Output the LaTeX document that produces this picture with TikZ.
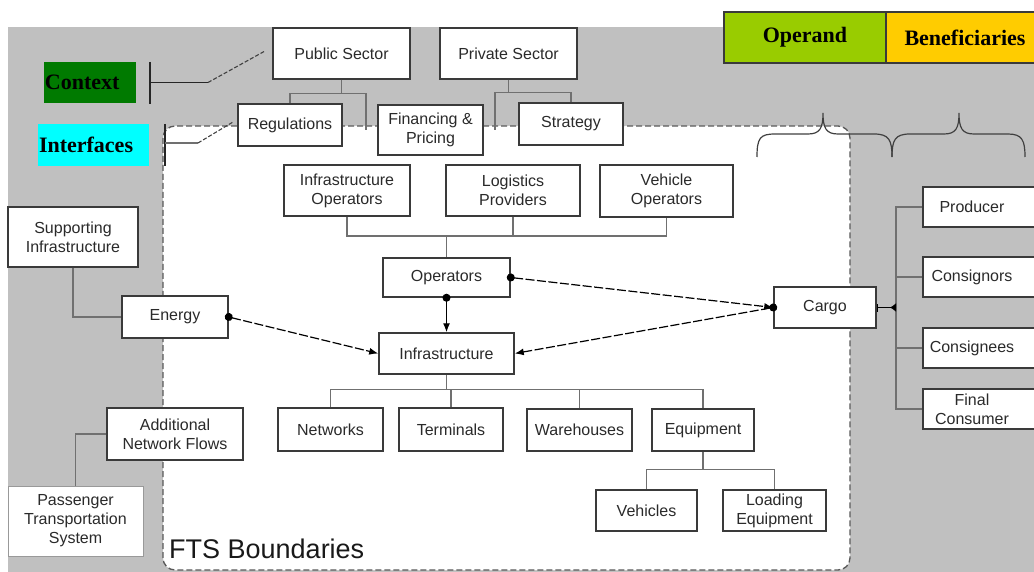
\documentclass[tikz,border=0pt]{standalone}
\usepackage{fontspec}
\setmainfont{Liberation Serif}
\newfontfamily\arialf{Liberation Sans}
\usetikzlibrary{arrows.meta}
\definecolor{bggray}{HTML}{C0C0C0}
\definecolor{ctxgreen}{HTML}{007A00}
\definecolor{opgreen}{HTML}{99CC00}
\definecolor{benyel}{HTML}{FFCC00}
\definecolor{ifcyan}{HTML}{00FFFF}
\definecolor{linegray}{HTML}{707070}
\definecolor{txtgray}{HTML}{2A2A2A}
\definecolor{boxline}{HTML}{3A3A3A}
\begin{document}
\begin{tikzpicture}[x=1pt,y=-1pt,
  box/.style={draw=boxline, line width=1.5pt, fill=white, font=\arialf\fontsize{16}{19}\selectfont,
    text=txtgray, align=center, inner sep=0pt},
  btext/.style={font=\arialf\fontsize{16}{19}\selectfont, text=txtgray, align=center, inner sep=0pt},
  tagbox/.style={draw=boxline, line width=1.3pt, font=\bfseries\fontsize{22}{24}\selectfont, text=black, inner sep=0pt},
  tree/.style={draw=linegray, line width=1.1pt},
  arr/.style={line width=1.2pt, draw=black, {Circle[length=8pt,width=8pt]}-{Latex[length=9pt,width=7pt]}, shorten <=-4pt},
  dashln/.style={dash pattern=on 9pt off 2.5pt},
  bracest/.style={draw=black!75, line width=1.2pt},
  barst/.style={draw=black!85, line width=1.5pt}
]
\useasboundingbox (0,0) rectangle (1034,572);
\clip (0,0) rectangle (1034,572);

% background regions
\fill[bggray] (8,27) rectangle (1044,580);
\fill[white, rounded corners=12] (163,126) rectangle (850,570);
\draw[black!65, line width=1.3pt, dash pattern=on 6pt off 3pt, rounded corners=12] (163,126) rectangle (850,570);

% header tags
\node[tagbox, fill=opgreen, minimum width=162, minimum height=51] (operand) at (805,37.5) {Operand};
\node[tagbox, fill=benyel, minimum width=158, minimum height=51] (benef) at (965,37.5) {Beneficiaries};
\node[tagbox, draw=none, fill=ctxgreen, minimum height=41, text width=90, inner xsep=1, align=left] (context) at (90,82.5) {Context};
\node[tagbox, draw=none, fill=ifcyan, minimum height=42, text width=109, inner xsep=1, align=left] (interf) at (93.5,145) {Interfaces};

% braces
\draw[bracest] (757,157) .. controls (757,138) and (760,134) .. (775,134) -- (808,134)
  .. controls (820,134) and (823,128) .. (823,113) .. controls (823,128) and (826,134) .. (838,134)
  -- (874,134) .. controls (889,134) and (892,140) .. (892,157);
\draw[bracest] (892,157) .. controls (892,140) and (895,134) .. (910,134) -- (944,134)
  .. controls (956,134) and (959,128) .. (959,113) .. controls (959,128) and (962,134) .. (974,134)
  -- (1008,134) .. controls (1022,134) and (1025,140) .. (1025,157);

% context / interfaces connectors
\coordinate (ctxbar) at (150,82.5);
\coordinate (ctxk) at (208,82.5);
\coordinate (ctxend) at (265,51);
\draw[barst] (150,62) -- (150,104);
\draw[barst, line width=1.2pt] (ctxbar) -- (ctxk);
\draw[black!75, line width=1.1pt, dash pattern=on 4pt off 2pt] (ctxk) -- (ctxend);
\coordinate (ifbar) at (165,143);
\coordinate (ifk) at (198,143);
\coordinate (ifend) at (233,122);
\draw[barst, line width=2pt] (165,124) -- (165,166);
\draw[linegray, line width=1.1pt] (ifbar) -- (ifk);
\draw[black!75, line width=1.1pt, dash pattern=on 4pt off 2pt] (ifk) -- (ifend);

% boxes
\node[box, minimum width=137, minimum height=51] (pub) at (341.5,53.5) {Public Sector};
\node[box, minimum width=137, minimum height=51] (priv) at (508.5,53.5) {Private Sector};
\node[box, minimum width=104, minimum height=42] (reg) at (290,125) {Regulations};
\node[box, minimum width=105, minimum height=50] (fin) at (430.5,130) {Financing \&\\Pricing};
\node[box, minimum width=104, minimum height=42] (strat) at (571,124) {Strategy};
\node[box, minimum width=126, minimum height=51] (iop) at (347,190.5) {Infrastructure\\Operators};
\node[box, minimum width=134, minimum height=51] (lp) at (513,190.5) {Logistics\\Providers};
\node[box, minimum width=133, minimum height=52] (vop) at (666.5,191) {Vehicle\\Operators};
\node[box, minimum width=127, minimum height=39] (ops) at (446.5,277.5) {Operators};
\node[box, minimum width=135, minimum height=41] (infra) at (446.5,353.5) {Infrastructure};
\node[box, minimum width=106, minimum height=42] (energy) at (175,317) {Energy};
\node[box, minimum width=130, minimum height=60] (supp) at (73,237) {Supporting\\Infrastructure};
\node[box, minimum width=102, minimum height=41] (cargo) at (825,307.5) {Cargo};
\node[box, minimum width=105, minimum height=43] (net) at (330.5,429.5) {Networks};
\node[box, minimum width=104, minimum height=43] (term) at (451,429.5) {Terminals};
\node[box, minimum width=105, minimum height=42] (ware) at (579.5,430) {Warehouses};
\node[box, minimum width=102, minimum height=42] (equip) at (703,430) {Equipment};
\node[box, minimum width=101, minimum height=41] (veh) at (646.5,510.5) {Vehicles};
\node[box, minimum width=103, minimum height=41] (load) at (774.5,510.5) {Loading\\Equipment};
\node[box, minimum width=136, minimum height=52] (anf) at (175,434) {Additional\\Network Flows};
\node[box, draw=black!40, line width=1pt, minimum width=135, minimum height=70] (pass) at (75.5,521) {Passenger\\Transportation\\System};

% beneficiary boxes (cut by the right edge)
\node[box, minimum width=124, minimum height=40, anchor=west] (prodbox) at (922,207) {};
\node[btext] (prod) at (972,207) {Producer};
\node[box, minimum width=124, minimum height=40, anchor=west] (csrbox) at (922,277) {};
\node[btext] (csr) at (972,277) {Consignors};
\node[box, minimum width=124, minimum height=40, anchor=west] (cseebox) at (922,348) {};
\node[btext] (csee) at (972,348) {Consignees};
\node[box, minimum width=124, minimum height=40, anchor=west] (fcbox) at (922,409) {};
\node[btext] (fc) at (972,409) {Final\\Consumer};

% trees
\draw[tree] (pub.south) -- ++(0,14) coordinate (pj);
\draw[tree] (reg.north) |- (pj) -| (366,130);
\draw[tree] (priv.south) -- ++(0,13) coordinate (vj);
\draw[tree] (495,130) |- (vj) -| (strat.north);
\coordinate (oj) at (446.5,236);
\draw[tree] (iop.south) |- (oj) -| (vop.south);
\draw[tree] (lp.south) -- (lp.south |- oj);
\draw[tree] (oj) -- (ops.north);
\draw[tree] (infra.south) -- ++(0,14.5) coordinate (ij);
\draw[tree] (net.north) |- (ij) -| (equip.north);
\draw[tree] (term.north) -- (term.north |- ij);
\draw[tree] (ware.north) -- (ware.north |- ij);
\draw[tree] (equip.south) -- ++(0,18) coordinate (ej);
\draw[tree] (veh.north) |- (ej) -| (load.north);
\draw[tree] (supp.south) |- (energy.west);
\draw[tree] (anf.west) -| (pass.north);
\coordinate (rx) at (896,0);
\draw[tree] (prodbox.west) -| (fcbox.west -| rx) -- (fcbox.west);
\draw[tree] (csrbox.west) -- (csrbox.west -| rx);
\draw[tree] (cseebox.west) -- (cseebox.west -| rx);
\draw[line width=1.2pt, {Bar[width=8pt]}-{Latex[reversed,length=6pt,width=9pt]}] (cargo.east) -- (cargo.east -| rx);

% relations
\draw[arr] (ops.south) -- (infra.north);
\draw[arr, dashln] (ops.east) -- (cargo.west);
\draw[arr, dashln] (cargo.west) -- (infra.east);
\draw[arr, dashln] (energy.east) -- (infra.west);

% label
\node[font=\arialf\fontsize{27}{30}\selectfont, text=black!90, anchor=base west, inner sep=0pt] (fts) at (169,558) {FTS Boundaries};
\end{tikzpicture}
\end{document}
